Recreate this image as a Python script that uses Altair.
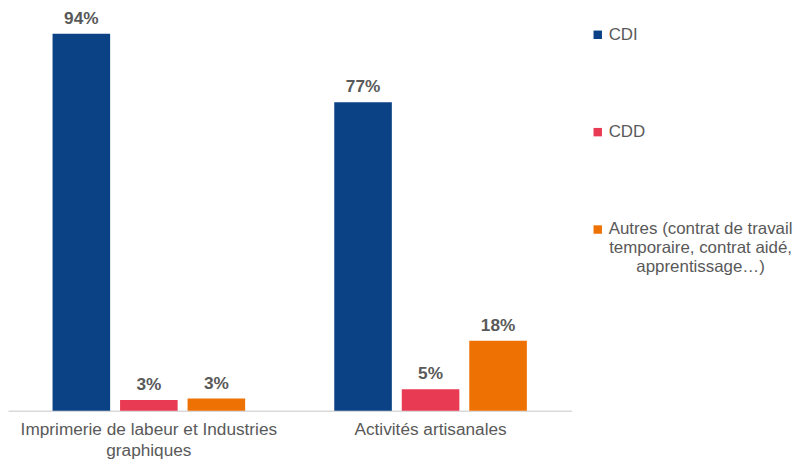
import json
import altair as alt
import pandas as pd

# ---- data ----
categories = ["Imprimerie de labeur et Industries graphiques", "Activités artisanales"]
category_lines = [["Imprimerie de labeur et Industries", "graphiques"], ["Activités artisanales"]]
series = ["CDI", "CDD", "Autres (contrat de travail temporaire, contrat aidé, apprentissage…)"]
series_lines = [["CDI"], ["CDD"],
                ["Autres (contrat de travail", "temporaire, contrat aidé,", "apprentissage…)"]]
cdi = [94.2, 77.1]
cdd = [2.7, 5.4]
autres = [3.1, 17.5]
colors = ["#0B4285", "#E83A52", "#EE7203"]

rows = []
for i, c in enumerate(categories):
    for s, vals in zip(series, [cdi, cdd, autres]):
        rows.append({"categorie": c, "contrat": s, "part": vals[i]})
df = pd.DataFrame(rows)


def lines_expr(keys, lines):
    expr = "datum.label"
    for k, l in zip(keys, lines):
        expr = f"datum.label == {json.dumps(k, ensure_ascii=False)} ? {json.dumps(l, ensure_ascii=False)} : ({expr})"
    return expr


FONT = "Liberation Sans"
GREY = "#595959"
FS = 17.33
LFS = 17
multi = "indexof(datum.label, 'Autres') == 0"

base = alt.Chart(df).encode(
    x=alt.X(
        "categorie:N", sort=categories, title=None,
        scale=alt.Scale(paddingInner=0, paddingOuter=0),
        axis=alt.Axis(
            labelExpr=lines_expr(categories, category_lines),
            labelAngle=0, labelFontSize=FS, labelColor=GREY, labelFont=FONT,
            labelPadding=10, labelLineHeight=20.5, labelLimit=400,
            ticks=False, domainColor="#D9D9D9", domainWidth=1.5, grid=False,
        ),
    ),
    xOffset=alt.XOffset("contrat:N", sort=series,
                        scale=alt.Scale(paddingInner=0.147, paddingOuter=0.66)),
    y=alt.Y("part:Q", scale=alt.Scale(domain=[0, 100]), axis=None),
)

bars = base.mark_bar().encode(
    color=alt.Color(
        "contrat:N", sort=series,
        scale=alt.Scale(domain=series, range=colors),
        legend=alt.Legend(
            title=None, orient="none", legendX=585, legendY=16,
            symbolType="square", symbolSize=72, symbolStrokeWidth=0,
            labelFontSize=LFS, labelColor=GREY, labelFont=FONT, labelLimit=300,
            labelAlign=alt.ExprRef(f"{multi} ? 'center' : 'left'"),
            labelOffset=alt.ExprRef(f"{multi} ? 95 : 2.5"),
            rowPadding=80, padding=0,
            labelExpr=lines_expr(series, series_lines),
        ),
    )
)

text = base.transform_calculate(
    etiquette="format(datum.part, '.0f') + '%'"
).mark_text(
    baseline="alphabetic", dy=-10, fontSize=FS, fontWeight="bold",
    color=GREY, font=FONT,
).encode(text="etiquette:N")

chart = (bars + text).properties(
    width=567, height=403,
    padding={"left": 0, "top": 0, "right": 0, "bottom": 0},
).configure_view(stroke=None)

chart.save("out.html", embed_options={"renderer": "svg", "actions": False})
